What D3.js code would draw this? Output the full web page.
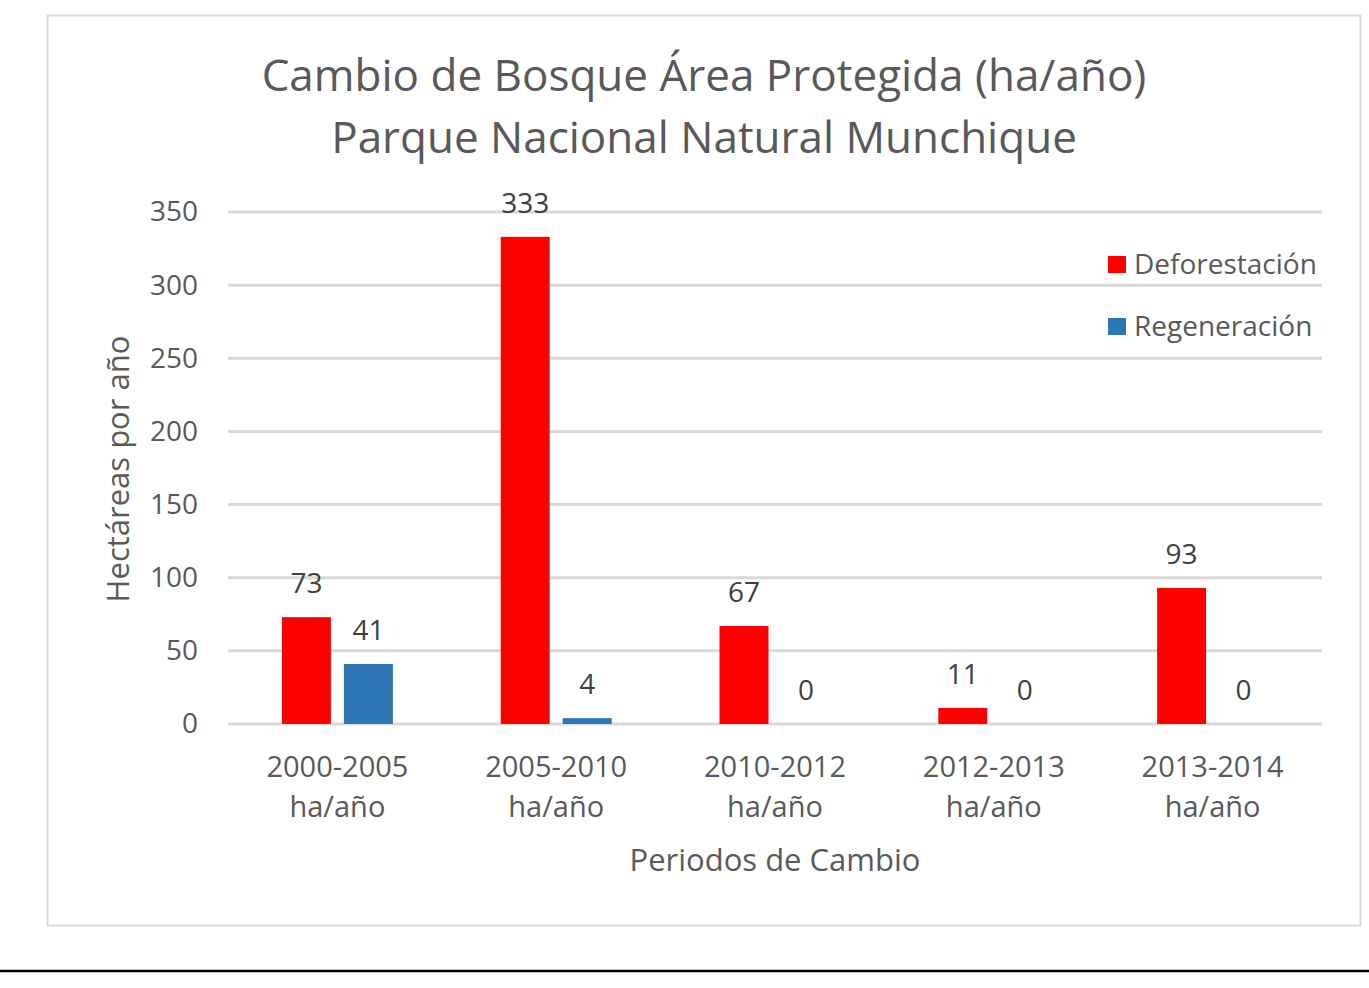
<!DOCTYPE html>
<html>
<head>
<meta charset="utf-8">
<script src="https://cdn.jsdelivr.net/npm/d3@7"></script>
<style>
  body { margin: 0; background: #fff; }
  svg text { font-family: "Open Sans", "Noto Sans", sans-serif; }
</style>
</head>
<body>
<svg id="chart" width="1369" height="988"></svg>
<script>
// data
var periods = ["2000-2005", "2005-2010", "2010-2012", "2012-2013", "2013-2014"]
var deforestacion = [73, 333, 67, 11, 93]
var regeneracion = [41, 4, 0, 0, 0]
var yTicks = [0, 50, 100, 150, 200, 250, 300, 350]
var seriesNames = ["Deforestación", "Regeneración"]
var seriesColors = ["#ff0000", "#2e75b6"]

var svg = d3.select("#chart")

// outer frame
svg.append("rect")
  .attr("x", 47.5).attr("y", 15.5)
  .attr("width", 1313).attr("height", 910)
  .attr("fill", "#fff")
  .attr("stroke", "#d9d9d9").attr("stroke-width", 2)

// page rule below the chart
svg.append("rect").attr("x", 0).attr("y", 969).attr("width", 1369).attr("height", 4).attr("fill", "#bfbfbf")
svg.append("rect").attr("x", 0).attr("y", 970).attr("width", 1369).attr("height", 2).attr("fill", "#000")

var plot = {left: 228, right: 1322, top: 212, bottom: 724}

var x = d3.scaleBand().domain(periods).range([plot.left, plot.right])
var y = d3.scaleLinear().domain([0, 350]).range([plot.bottom, plot.top])

var barW = 49, gap = 13
var sub = d3.scaleOrdinal().domain([0, 1]).range([-(barW + gap / 2), gap / 2])

// gridlines
svg.append("g").selectAll("line")
  .data(yTicks).enter()
  .append("line")
  .attr("x1", plot.left).attr("x2", plot.right)
  .attr("y1", function(d){ return y(d) }).attr("y2", function(d){ return y(d) })
  .attr("stroke", "#d9d9d9").attr("stroke-width", 3)

// y axis tick labels
var yAxis = d3.axisLeft(y).tickValues(yTicks).tickSize(0).tickPadding(0)
var yg = svg.append("g").attr("transform", "translate(198,0)").call(yAxis)
yg.select(".domain").remove()
yg.selectAll("text")
  .attr("font-size", 28).attr("fill", "#595959")
  .attr("font-family", "'Open Sans', sans-serif")

// bars
var rows = periods.map(function(p, i){
  return [{p: p, s: 0, v: deforestacion[i]}, {p: p, s: 1, v: regeneracion[i]}]
})

var groups = svg.append("g").selectAll("g")
  .data(rows).enter()
  .append("g")
  .attr("transform", function(d){ return "translate(" + (x(d[0].p) + x.bandwidth() / 2) + ",0)" })

groups.selectAll("rect")
  .data(function(d){ return d }).enter()
  .append("rect")
  .attr("x", function(d){ return sub(d.s) })
  .attr("width", barW)
  .attr("y", function(d){ return y(d.v) })
  .attr("height", function(d){ return y(0) - y(d.v) })
  .attr("fill", function(d){ return seriesColors[d.s] })

// data labels
groups.selectAll("text")
  .data(function(d){ return d }).enter()
  .append("text")
  .attr("x", function(d){ return sub(d.s) + barW / 2 })
  .attr("y", function(d){ return y(d.v) - 24 })
  .attr("text-anchor", "middle")
  .attr("font-size", 28).attr("fill", "#404040")
  .text(function(d){ return d.v })

// category labels
var xl = svg.append("g").selectAll("text")
  .data(periods).enter()
  .append("text")
  .attr("x", function(d){ return x(d) + x.bandwidth() / 2 })
  .attr("text-anchor", "middle")
  .attr("font-size", 29).attr("fill", "#595959")
xl.append("tspan").attr("x", function(d){ return x(d) + x.bandwidth() / 2 }).attr("y", 777).text(function(d){ return d })
xl.append("tspan").attr("x", function(d){ return x(d) + x.bandwidth() / 2 }).attr("y", 817).text("ha/año")

// title
var title = svg.append("text").attr("text-anchor", "middle").attr("font-size", 44).attr("fill", "#595959")
title.append("tspan").attr("x", 704).attr("y", 91).text("Cambio de Bosque Área Protegida (ha/año)")
title.append("tspan").attr("x", 704).attr("y", 153).text("Parque Nacional Natural Munchique")

// axis titles
svg.append("text")
  .attr("transform", "translate(129,469) rotate(-90)")
  .attr("text-anchor", "middle")
  .attr("font-size", 31).attr("fill", "#595959")
  .text("Hectáreas por año")

svg.append("text")
  .attr("x", 775).attr("y", 871)
  .attr("text-anchor", "middle")
  .attr("font-size", 31).attr("fill", "#595959")
  .text("Periodos de Cambio")

// legend
var legend = svg.append("g").selectAll("g")
  .data(seriesNames).enter()
  .append("g")
  .attr("transform", function(d, i){ return "translate(1108," + (264 + i * 62) + ")" })
legend.append("rect")
  .attr("x", 0).attr("y", -8).attr("width", 18).attr("height", 17)
  .attr("fill", function(d, i){ return seriesColors[i] })
legend.append("text")
  .attr("x", 26).attr("y", 10)
  .attr("font-size", 28).attr("fill", "#595959")
  .text(function(d){ return d })
</script>
</body>
</html>
